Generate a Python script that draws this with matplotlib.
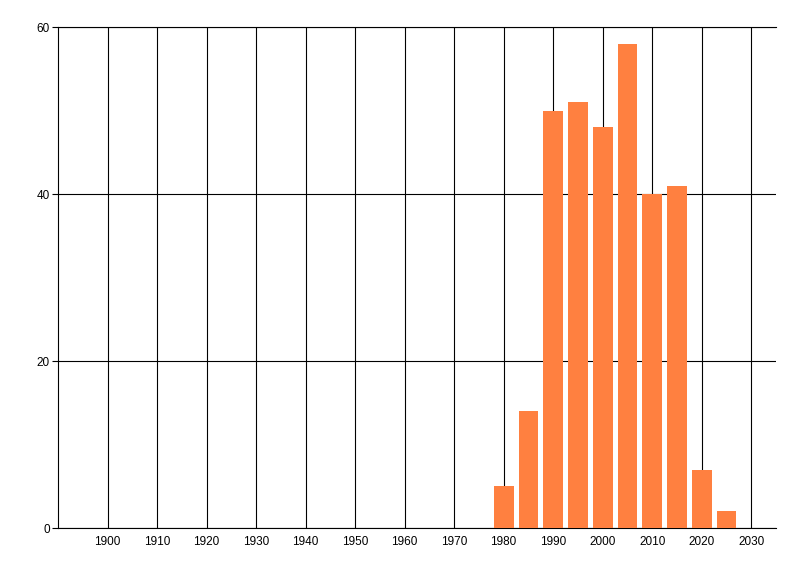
import matplotlib.pyplot as plt

# Données : nombre par période de 5 ans
years = [1980, 1985, 1990, 1995, 2000, 2005, 2010, 2015, 2020, 2025]
counts = [5, 14, 50, 51, 48, 58, 40, 41, 7, 2]
xticks = list(range(1900, 2031, 10))
yticks = [0, 20, 40, 60]

plt.rcParams['font.family'] = ['Liberation Sans', 'DejaVu Sans']

fig = plt.figure(figsize=(8, 5.76), dpi=100)
ax = fig.add_axes([0.0725, 0.0833, 0.8975, 0.8697])

ax.bar(years, counts, width=4, color='#ff8040', zorder=3)

ax.set_xlim(1890, 2035)
ax.set_ylim(0, 60)
ax.set_xticks(xticks)
ax.set_yticks(yticks)
ax.grid(True, color='black', linewidth=0.8, zorder=0)
ax.set_axisbelow(True)

for s in ['left', 'bottom', 'top']:
    ax.spines[s].set_color('black')
    ax.spines[s].set_linewidth(0.8)
ax.spines['right'].set_visible(False)

ax.tick_params(axis='x', length=0, pad=6, labelsize=8.5)
ax.tick_params(axis='y', length=4, width=0.8, pad=2, labelsize=8.5)

fig.savefig('out.png', dpi=100)
